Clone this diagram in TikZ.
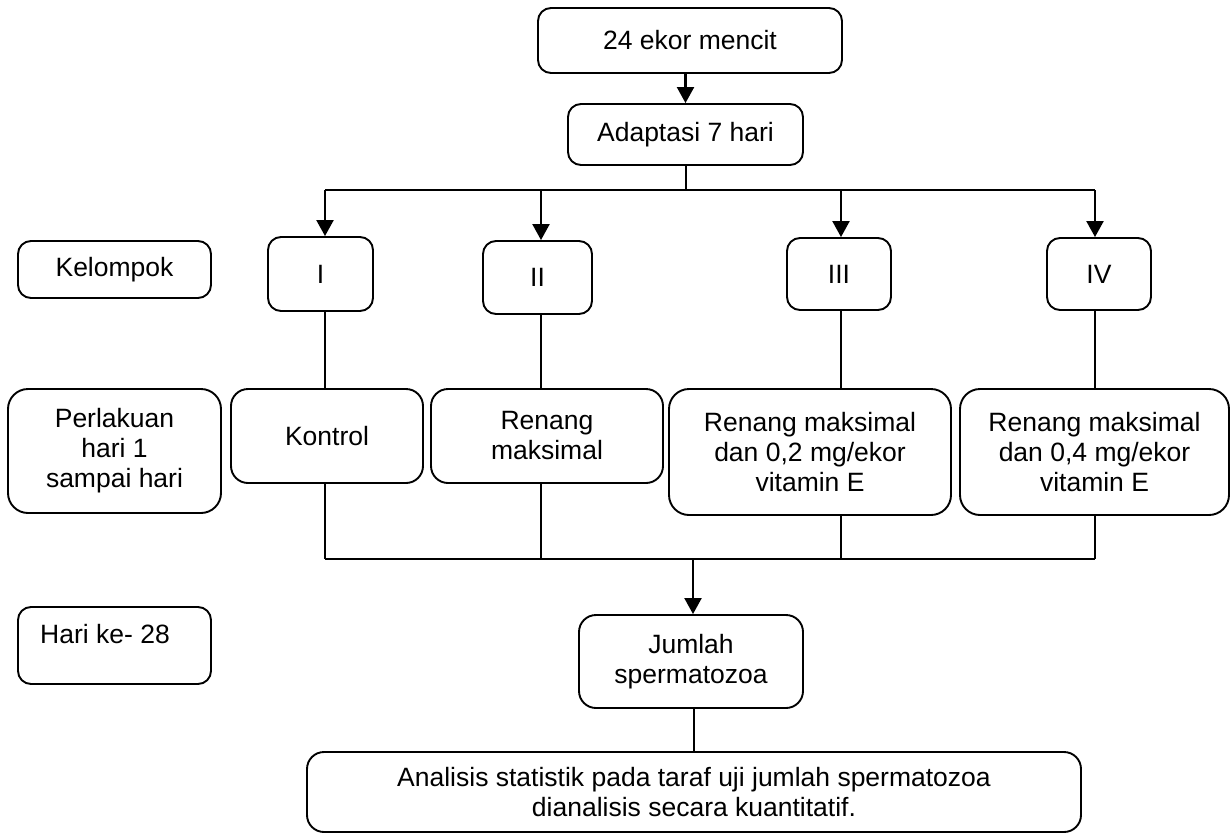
\documentclass[tikz,border=0pt]{standalone}
\usepackage{fontspec}
\setmainfont{Liberation Sans}
\usetikzlibrary{arrows.meta}
\begin{document}
\begin{tikzpicture}[x=1pt,y=-1pt,
  box/.style={draw, line width=1.9pt, rounded corners=#1, align=center, inner sep=0pt,
              font=\fontsize{26.5}{30}\selectfont},
  box/.default=13pt,
  txt/.style={inner sep=0pt, font=\fontsize{26.5}{30}\selectfont},
  ln/.style={line width=1.7pt},
  arr/.style={line width=2.2pt, -{Triangle[width=17pt,length=16pt]}}]
\useasboundingbox[fill=white] (0,0) rectangle (1232,838);

% top
\node[box, minimum width=304pt, minimum height=65pt] (n24) at (690,40.5) {24 ekor mencit};
\node[box, minimum width=235pt, minimum height=61pt] (adapt) at (685.5,134.5) {Adaptasi 7 hari};

% left labels
\node[box, minimum width=193pt, minimum height=57pt] (kel) at (114.5,269.5) {Kelompok};
\node[box=20pt, minimum width=213pt, minimum height=124pt] (perl) at (114.5,451) {Perlakuan\\hari 1\\sampai hari};
\node[box, minimum width=193pt, minimum height=77pt] (hari) at (114.5,645.5) {};
\node[txt] (haritext) at (105,634) {Hari ke- 28};

% groups
\node[box, minimum width=105pt, minimum height=74pt] (gI) at (320.5,274) {I};
\node[box, minimum width=109pt, minimum height=73pt] (gII) at (537.5,277.5) {II};
\node[box, minimum width=104pt, minimum height=72pt] (gIII) at (839,274) {III};
\node[box, minimum width=104pt, minimum height=72pt] (gIV) at (1099,274) {IV};

% treatments
\node[box=17pt, minimum width=192pt, minimum height=94pt] (kont) at (327,436) {Kontrol};
\node[box=17pt, minimum width=232pt, minimum height=94pt] (ren) at (547,436) {Renang\\maksimal};
\node[box=20pt, minimum width=282pt, minimum height=126pt] (r02) at (810,452) {Renang maksimal\\dan 0,2 mg/ekor\\vitamin E};
\node[box=20pt, minimum width=269pt, minimum height=126pt] (r04) at (1094.5,452) {Renang maksimal\\dan 0,4 mg/ekor\\vitamin E};

% bottom
\node[box=17pt, minimum width=224pt, minimum height=93pt] (jum) at (691,661.5) {Jumlah\\spermatozoa};
\node[box=17pt, minimum width=774pt, minimum height=80pt] (ana) at (694,792) {Analisis statistik pada taraf uji jumlah spermatozoa\\dianalisis secara kuantitatif.};

% connectors top
\draw[arr] (adapt.north |- n24.south) -- (adapt.north);
\coordinate (bus) at (686,190);
\coordinate (b1) at (325,190);
\coordinate (b2) at (541,190);
\coordinate (b3) at (841,190);
\coordinate (b4) at (1095,190);
\draw[ln] (bus |- adapt.south) -- (bus);
\draw[ln] (b1) -- (b4);
\draw[arr] (b1) -- (b1 |- gI.north);
\draw[arr] (b2) -- (b2 |- gII.north);
\draw[arr] (b3) -- (b3 |- gIII.north);
\draw[arr] (b4) -- (b4 |- gIV.north);

% groups to treatments
\draw[ln] (b1 |- gI.south) -- (b1 |- kont.north);
\draw[ln] (b2 |- gII.south) -- (b2 |- ren.north);
\draw[ln] (b3 |- gIII.south) -- (b3 |- r02.north);
\draw[ln] (b4 |- gIV.south) -- (b4 |- r04.north);

% lower bus
\coordinate (d1) at (325,559);
\coordinate (d2) at (541,559);
\coordinate (d3) at (841,559);
\coordinate (d4) at (1095,559);
\coordinate (dm) at (693,559);
\draw[ln] (d1 |- kont.south) -- (d1);
\draw[ln] (d2 |- ren.south) -- (d2);
\draw[ln] (d3 |- r02.south) -- (d3);
\draw[ln] (d4 |- r04.south) -- (d4);
\draw[ln] (d1) -- (d4);
\draw[arr] (dm) -- (dm |- jum.north);
\draw[ln] (ana.north |- jum.south) -- (ana.north);
\end{tikzpicture}
\end{document}
